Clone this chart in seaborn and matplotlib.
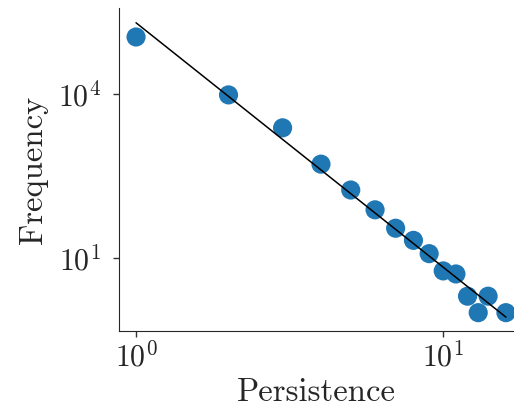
import numpy as np
import pandas as pd
import seaborn as sns
import matplotlib.pyplot as plt
from matplotlib.ticker import FixedLocator, LogFormatterSciNotation, NullLocator

# persistence values and their observed frequencies
persistence = [1, 2, 3, 4, 5, 6, 7, 8, 9, 10, 11, 12, 13, 14, 16]
frequency = [110000, 9600, 2400, 520, 175, 76, 35, 21, 12, 5.8, 5.1, 2, 1, 2, 1]

# power law fit: frequency = coef * persistence ** exponent
fit_coef = 2.0e5
fit_exponent = -4.47
fit_x = [1, 16]

sns.set_style('ticks')
plt.rcParams['font.family'] = 'serif'
plt.rcParams['font.serif'] = ['cmr10', 'DejaVu Serif']
plt.rcParams['mathtext.fontset'] = 'cm'
plt.rcParams['axes.unicode_minus'] = False
plt.rcParams['axes.formatter.use_mathtext'] = True

df = pd.DataFrame({'Persistence': persistence, 'Frequency': frequency})
fit_df = pd.DataFrame({'x': fit_x, 'y': [fit_coef * v ** fit_exponent for v in fit_x]})

fig = plt.figure(figsize=(5.14, 4.12), dpi=100)
ax = fig.add_axes([0.2315, 0.1966, 0.7685, 0.784])

sns.scatterplot(data=df, x='Persistence', y='Frequency', s=190, color='#1f77b4',
                edgecolor='none', ax=ax, zorder=2)
sns.lineplot(data=fit_df, x='x', y='y', color='black', linewidth=1.1, ax=ax, zorder=3)

ax.set_xscale('log')
ax.set_yscale('log')
ax.set_xlim(0.88, 17.0)
ax.set_ylim(0.462, 3.73e5)
ax.xaxis.set_major_locator(FixedLocator([1, 10]))
ax.yaxis.set_major_locator(FixedLocator([10, 1e4]))
ax.xaxis.set_minor_locator(NullLocator())
ax.yaxis.set_minor_locator(NullLocator())
ax.xaxis.set_major_formatter(LogFormatterSciNotation())
ax.yaxis.set_major_formatter(LogFormatterSciNotation())
ax.tick_params(labelsize=21.5, length=4, width=1, colors='#333333', labelcolor='#262626')
ax.tick_params(axis='y', pad=9)
ax.tick_params(axis='x', pad=3.5)

ax.set_xlabel('Persistence', fontsize=23.5, color='#262626', labelpad=4)
ax.set_ylabel('Frequency', fontsize=23.5, color='#262626', labelpad=7)
sns.despine(ax=ax)

plt.savefig('out.png', dpi=100)
